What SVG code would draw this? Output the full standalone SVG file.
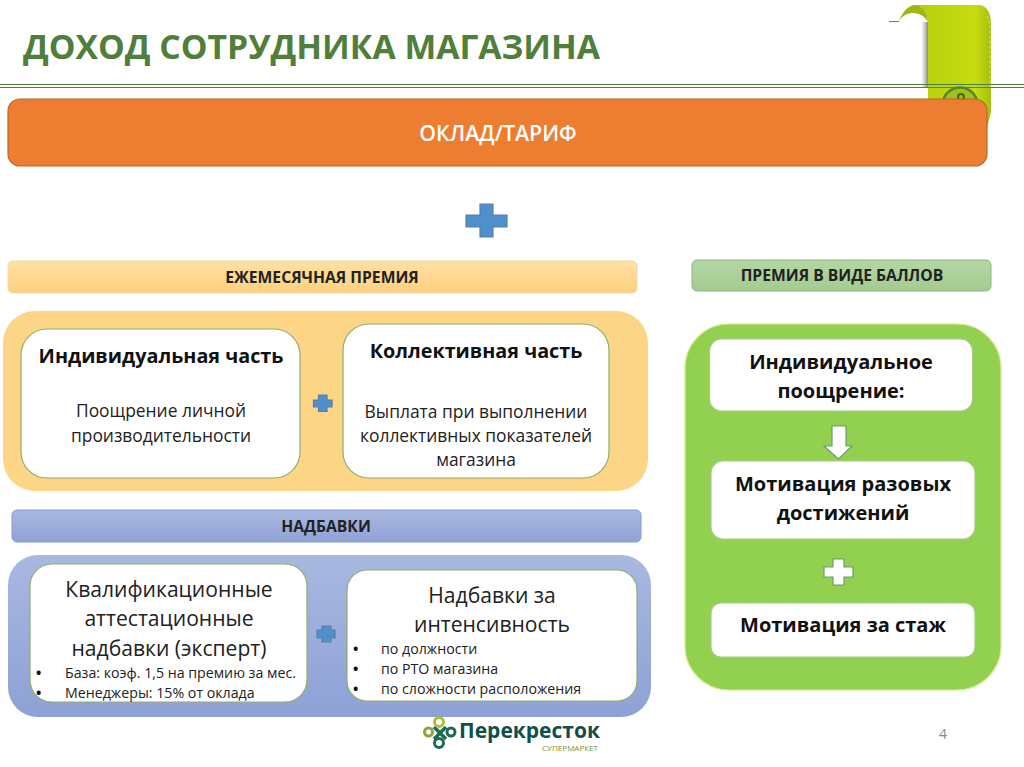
<svg xmlns="http://www.w3.org/2000/svg" width="1024" height="767" viewBox="0 0 1024 767">
<defs>
<linearGradient id="gRib" x1="0" x2="1" y1="0" y2="0"><stop offset="0" stop-color="#b4cf0c"/><stop offset="0.8" stop-color="#c6dc10"/><stop offset="1" stop-color="#a4bf10"/></linearGradient>
<linearGradient id="gOrange" x1="0" x2="0" y1="0" y2="1"><stop offset="0" stop-color="#ffe0a4"/><stop offset="1" stop-color="#fdd07e"/></linearGradient>
<linearGradient id="gBlue" x1="0" x2="0" y1="0" y2="1"><stop offset="0" stop-color="#aab8e0"/><stop offset="1" stop-color="#8fa2d6"/></linearGradient>
<linearGradient id="gPanelB" x1="0" x2="0" y1="0" y2="1"><stop offset="0" stop-color="#a9b8e0"/><stop offset="1" stop-color="#8ea1d6"/></linearGradient>
<linearGradient id="gGreen" x1="0" x2="0" y1="0" y2="1"><stop offset="0" stop-color="#b4d6a4"/><stop offset="1" stop-color="#a3cc90"/></linearGradient>
<linearGradient id="gShadow" x1="0" x2="1" y1="0" y2="0"><stop offset="0" stop-color="#aaa" stop-opacity="0"/><stop offset="1" stop-color="#888"/></linearGradient>
</defs>
<style>
text{font-family:"Open Sans","Liberation Sans",sans-serif;fill:#111;text-anchor:middle}
.b{font-weight:700}
.card{fill:#fff;stroke:#8fae6a;stroke-width:1.2}
.cardg{fill:#fff;stroke:#a8c98a;stroke-width:1.2}
.bar{font-size:15.700px;font-weight:700;fill:#222}
.h{font-size:19.800px;font-weight:700}
.d{font-size:17.400px;fill:#222}
.q{font-size:21.100px;fill:#222}
.s{font-size:14.200px;fill:#222;text-anchor:start}
.bu{font-size:14.200px;font-weight:700;fill:#111;text-anchor:start}
.r{font-size:20px;font-weight:700}
.plus{fill:#4f8fcc;stroke:#5a7ea8;stroke-width:1.2}
.wp{fill:#fff;stroke:#6f9a70;stroke-width:1.2}
</style>

<g id="ribbon">
<rect x="921" y="22" width="7" height="66" fill="url(#gShadow)"/>
<path d="M928 22C928 12 922 5 915 5L978 5C987 5 991 13 991 24L991 112L987 128L928 100Z" fill="url(#gRib)"/>
<path d="M899 21C902 13 908 5 915 5C922 5 928 12 928 22C924 15 918 13 912 13C906 13 902 17 899 21Z" fill="#a2b70e"/>
<path d="M889 21.500H899" stroke="#777" stroke-width="1"/>
<path d="M987 16L990 24V88" fill="none" stroke="#dfe85a" stroke-width="1" stroke-dasharray="3 2"/>
<circle cx="960" cy="105" r="17.500" fill="#a4bf1a" stroke="#4f8a2c" stroke-width="2.500"/>
<circle cx="961" cy="97" r="3" fill="none" stroke="#3c6a2c" stroke-width="2"/>
</g>

<g id="title"><text x="311.500" y="59" font-size="33.700" class="b" style="fill:#4f7f3a">ДОХОД СОТРУДНИКА МАГАЗИНА</text></g>
<g id="rule"><path d="M0 84.500H1024" stroke="#4f8040" stroke-width="1.200"/><path d="M0 87.500H1024" stroke="#4f8040" stroke-width="1.200"/></g>

<g id="salary"><rect x="8" y="99" width="979" height="67" rx="12" fill="#ed7d31" stroke="#b8672c" stroke-width="1.200"/><text x="498" y="141" font-size="21.300" style="fill:#fff;font-weight:600">ОКЛАД/ТАРИФ</text></g>

<g id="plus-main"><path class="plus" d="M480 204H493V215H507V227H493V237H480V227H466V215H480Z"/></g>

<g id="monthly-bar"><rect x="8" y="261" width="629" height="32" rx="5" fill="url(#gOrange)" stroke="#f2d9a0"/><text class="bar" x="322" y="283">ЕЖЕМЕСЯЧНАЯ ПРЕМИЯ</text></g>
<g id="points-bar"><rect x="692" y="260" width="299" height="31" rx="5" fill="url(#gGreen)" stroke="#8fb585"/><text class="bar" x="842" y="281">ПРЕМИЯ В ВИДЕ БАЛЛОВ</text></g>

<g id="monthly-panel"><rect x="3" y="311" width="645" height="180" rx="32" fill="#fdd587"/></g>
<g id="individual"><rect class="card" x="21" y="329" width="279" height="149" rx="26"/>
<text class="h" x="161" y="363">Индивидуальная часть</text>
<text class="d" x="161" y="417">Поощрение личной</text><text class="d" x="161" y="442">производительности</text></g>
<g id="collective"><rect class="card" x="343" y="324" width="266" height="154" rx="26"/>
<text class="h" x="476" y="358">Коллективная часть</text>
<text class="d" x="476" y="418">Выплата при выполнении</text><text class="d" x="476" y="442">коллективных показателей</text><text class="d" x="476" y="466">магазина</text></g>
<g id="plus-monthly"><path class="plus" d="M318.500 395H327V400H332V407H327V411.500H318.500V407H313.500V400H318.500Z"/></g>

<g id="allowance-bar"><rect x="12" y="510" width="629" height="32" rx="5" fill="url(#gBlue)" stroke="#8a9ccf"/><text class="bar" x="326" y="532">НАДБАВКИ</text></g>

<g id="allowance-panel"><rect x="8" y="555" width="643" height="162" rx="30" fill="url(#gPanelB)"/></g>
<g id="qualification"><rect class="card" x="30" y="564" width="277" height="138" rx="22"/>
<text class="q" x="169" y="597">Квалификационные</text><text class="q" x="169" y="626">аттестационные</text><text class="q" x="169" y="656">надбавки (эксперт)</text>
<text class="bu" x="36" y="678">•</text><text class="s" x="65" y="678">База: коэф. 1,5 на премию за мес.</text>
<text class="bu" x="36" y="698">•</text><text class="s" x="65" y="698">Менеджеры: 15% от оклада</text></g>
<g id="intensity"><rect class="card" x="347" y="570" width="290" height="131" rx="20"/>
<text class="q" x="492" y="603">Надбавки за</text><text class="q" x="492" y="632">интенсивность</text>
<text class="bu" x="353" y="654">•</text><text class="s" x="381" y="654">по должности</text>
<text class="bu" x="353" y="674">•</text><text class="s" x="381" y="674">по РТО магазина</text>
<text class="bu" x="353" y="693.500">•</text><text class="s" x="381" y="693.500">по сложности расположения</text></g>
<g id="plus-allowance"><path class="plus" d="M322 626H331V630H335V638H331V642H322V638H317V630H322Z"/></g>

<g id="points-panel"><rect x="685" y="324" width="316" height="366" rx="44" fill="#92d050" stroke="#d9e88f" stroke-width="1.200"/></g>
<g id="reward"><rect class="cardg" x="709.500" y="339" width="263" height="72" rx="12"/>
<text class="r" x="841" y="369">Индивидуальное</text><text class="r" x="841" y="398">поощрение:</text></g>
<g id="one-off"><rect class="cardg" x="711" y="461" width="264" height="78" rx="12"/>
<text class="r" x="843" y="491">Мотивация разовых</text><text class="r" x="843" y="520">достижений</text></g>
<g id="tenure"><rect class="cardg" x="711" y="603" width="264" height="54" rx="10"/>
<text class="r" x="843" y="632">Мотивация за стаж</text></g>
<g id="connectors">
<path class="wp" d="M832 426H846V446H852L838.500 459L824 446H832Z"/>
<path class="wp" d="M833 559H844V567H853V577H844V585H833V577H824V567H833Z"/>
</g>

<g id="logo">
<path d="M434 727L446 739M446 727L434 739" stroke="#1f6b52" stroke-width="3.500" fill="none"/>
<g fill="none" stroke-width="3"><circle cx="439" cy="722" r="4.500" stroke="#a9bf3d"/><circle cx="428.500" cy="732" r="4" stroke="#8aa63a"/><circle cx="451" cy="732" r="4" stroke="#1f6b52"/><circle cx="439" cy="743" r="4.500" stroke="#1f6b52"/></g>
<text x="529.500" y="738" font-size="21" class="b" style="fill:#0f4f4a">Перекресток</text>
<text x="570" y="751" font-size="8" style="fill:#7a8f3a">СУПЕРМАРКЕТ</text>
</g>
<g id="page"><text x="943" y="739" font-size="14" style="fill:#8a8a8a">4</text></g>
</svg>
